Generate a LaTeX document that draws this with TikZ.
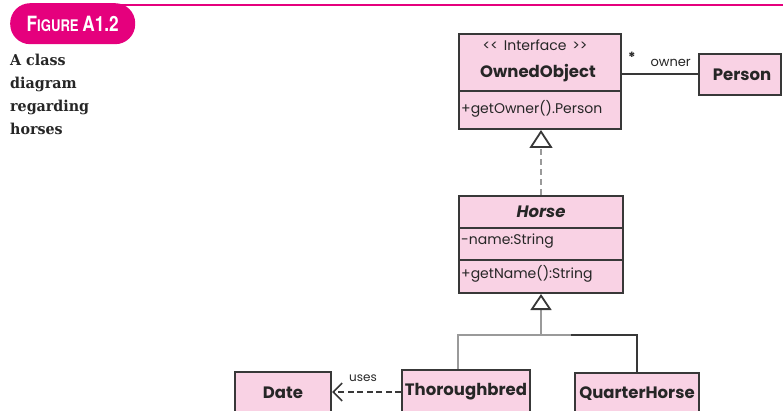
\documentclass[tikz,border=0pt]{standalone}
\usepackage{fontspec}
\setsansfont{Poppins}
\newfontfamily\capfont{DejaVu Serif}
\newfontfamily\tagfont{TeX Gyre Heros}
\usetikzlibrary{arrows.meta,calc}

\definecolor{magbar}{HTML}{E5007D}
\definecolor{classfill}{HTML}{F9D2E4}
\definecolor{edge}{HTML}{383838}
\definecolor{linkgray}{HTML}{9A9A9A}
\definecolor{inktext}{HTML}{262626}

\tikzset{
  classbox/.style={draw=edge, line width=2pt, fill=classfill, inner sep=0pt, anchor=north west},
  nametext/.style={font=\sffamily\bfseries\fontsize{16.5}{18}\selectfont, text=inktext, inner sep=0pt},
  membertext/.style={font=\sffamily\fontsize{14}{16}\selectfont, text=inktext, inner sep=0pt, anchor=west},
  smalltext/.style={font=\sffamily\fontsize{13}{15}\selectfont, text=inktext, inner sep=0pt},
  divider/.style={draw=edge, line width=1.6pt},
  realize/.style={draw=linkgray, line width=2.4pt, dash pattern=on 6pt off 4pt,
    -{Triangle[open, length=18pt, width=23pt, line width=1.8pt, color=edge, fill=white]}},
  inherit/.style={draw=linkgray, line width=2.4pt},
  inheritdark/.style={draw=edge, line width=2pt},
  depend/.style={draw=edge, line width=2pt, dash pattern=on 6pt off 3.5pt,
    -{Straight Barb[length=9pt, width=18pt, line width=1.6pt]}},
  capline/.style={font=\capfont\bfseries\fontsize{15}{15}\selectfont, text=inktext,
    inner sep=0pt, anchor=base west},
}

\begin{document}
\begin{tikzpicture}[x=1pt, y=-1pt]
  \useasboundingbox (0,0) rectangle (783,411);
  \clip (0,0) rectangle (783,411);

  % heading bar and tag
  \draw[magbar, line width=2.2pt] (120,5) -- (783,5);
  \node[fill=magbar, rounded corners=20pt, minimum width=125pt, minimum height=41pt,
        inner sep=0pt, anchor=north west] (tag) at (10,3) {};
  \node[text=white, font=\tagfont\bfseries, inner sep=0pt] (tagtext) at ($(tag.center)+(0,0)$)
    {\scalebox{0.82}[1]{\fontsize{21}{21}\selectfont F\fontsize{16}{16}\selectfont IGURE\ \fontsize{21}{21}\selectfont A1.2}};

  % caption, one line per node
  \node[capline] (cap1) at (10,66) {\scalebox{0.95}[1]{A class}};
  \node[capline] (cap2) at (10,89) {\scalebox{0.95}[1]{diagram}};
  \node[capline] (cap3) at (10,112) {\scalebox{0.95}[1]{regarding}};
  \node[capline] (cap4) at (10,135) {\scalebox{0.95}[1]{horses}};

  % interface OwnedObject
  \node[classbox, minimum width=162pt, minimum height=95pt] (owned) at (458,33) {};
  \node[smalltext, font=\sffamily\fontsize{14}{16}\selectfont] (ownedstereo)
    at ($(owned.north)+(-5,12)$) {<\kern0pt<\kern2pt\ Interface\ \kern2pt>\kern0pt>};
  \node[nametext] (ownedname) at ($(owned.north)+(-2,40)$) {OwnedObject};
  \draw[divider] ($(owned.north west)+(0,58)$) -- ($(owned.north east)+(0,58)$);
  \node[membertext] (ownedop) at ($(owned.north west)+(3,76)$) {+getOwner().Person};

  % class Person
  \node[classbox, minimum width=82pt, minimum height=41pt] (person) at (698,53) {};
  \node[nametext] (personname) at ($(person.center)+(2,0)$) {Person};

  % abstract class Horse
  \node[classbox, minimum width=164pt, minimum height=97pt] (horse) at (458,195) {};
  \node[nametext, font=\sffamily\bfseries\itshape\fontsize{16.5}{18}\selectfont] (horsename)
    at ($(horse.north)+(0,17)$) {Horse};
  \draw[divider] ($(horse.north west)+(0,33)$) -- ($(horse.north east)+(0,33)$);
  \node[membertext] (horseattr) at ($(horse.north west)+(3,46)$) {-name:String};
  \draw[divider] ($(horse.north west)+(0,65)$) -- ($(horse.north east)+(0,65)$);
  \node[membertext] (horseop) at ($(horse.north west)+(3,79)$) {+getName():String};

  % subclasses and Date
  \node[classbox, minimum width=128pt, minimum height=44pt] (thorough) at (401,369) {};
  \node[nametext] (thoroughname) at (thorough.center) {Thoroughbred};
  \node[classbox, minimum width=124pt, minimum height=42pt] (quarter) at (574,372) {};
  \node[nametext] (quartername) at (quarter.center) {QuarterHorse};
  \node[classbox, minimum width=96pt, minimum height=42pt] (date) at (234,371) {};
  \node[nametext] (datename) at (date.center) {Date};

  % association OwnedObject -- Person
  \draw[draw=edge, line width=2pt] (person.west -| owned.east) -- (person.west)
    node[pos=0.13, anchor=south, yshift=11pt, smalltext, font=\sffamily\bfseries\fontsize{14}{16}\selectfont] (mult) {*}
    node[pos=0.64, anchor=south, yshift=7pt, smalltext] (role) {owner};

  % realization Horse -> OwnedObject
  \draw[realize] (horse.north) -- (horse.north |- owned.south);

  % generalization Thoroughbred, QuarterHorse -> Horse
  \coordinate (junction) at ($(horse.south)+(0,41)$);
  \coordinate (shade) at ($(junction)+(30,0)$);
  \draw[inherit] (horse.south west |- thorough.north) |- (shade);
  \draw[inheritdark] (quarter.north) |- (shade);
  \draw[inherit, -{Triangle[open, length=16pt, width=21pt, line width=1.8pt, color=edge, fill=white]}]
    (junction) -- (horse.south);

  % dependency Thoroughbred -> Date
  \draw[depend] (thorough.west) -- (thorough.west -| date.east)
    node[pos=0.55, anchor=south, yshift=6pt, font=\sffamily\fontsize{12}{14}\selectfont, text=inktext] (uses) {uses};
\end{tikzpicture}
\end{document}
